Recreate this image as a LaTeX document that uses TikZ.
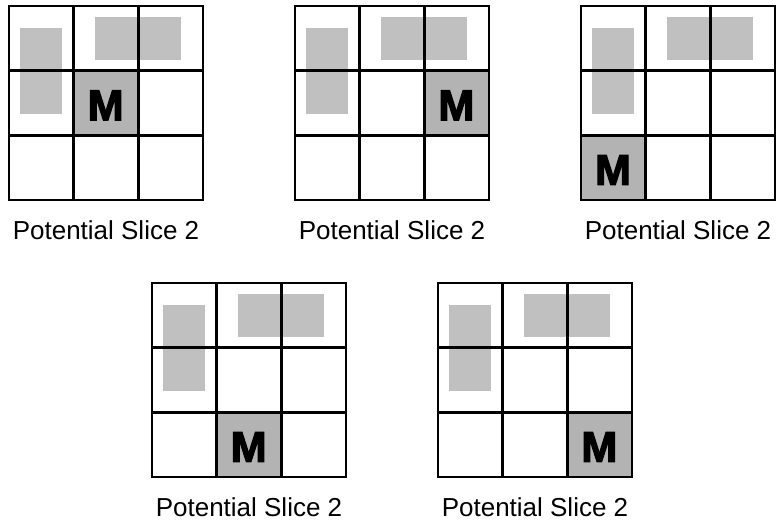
\documentclass[tikz,border=0pt]{standalone}
\usepackage{fontspec}
\setmainfont{Liberation Sans}
\newfontfamily\mfont{Liberation Sans Bold}[FakeBold=3]
\definecolor{lightblk}{HTML}{C0C0C0}
\definecolor{mshade}{HTML}{B3B3B3}
\tikzset{
  lightblock/.style={fill=lightblk},
  mcell/.style={fill=mshade},
  gridline/.style={draw=black,line width=2.4pt,line cap=rect},
  mlabel/.style={anchor=base,inner sep=0pt,font=\fontsize{43}{43}\mfont},
  caption/.style={anchor=base,inner sep=0pt,font=\fontsize{26}{26}\selectfont}
}
\newcommand{\slicegrid}[5]{%
  \begin{scope}[shift={(#1,#2)}]
    \fill[lightblock] (11,22) rectangle (53,108);
    \fill[lightblock] (86,11) rectangle (172,54);
    \fill[mcell] ({#3*64.667},{#4*64.667}) rectangle ++(64.667,64.667);
    \node[mlabel] (#5m) at ({#3*64.667+32},{#4*64.667+49.5}) {M};
    \foreach \i in {0,1,2,3} {
      \draw[gridline] ({\i*64.667},0) -- ({\i*64.667},194);
      \draw[gridline] (0,{\i*64.667}) -- (194,{\i*64.667});
    }
    \node[caption] (#5cap) at (97,233.5) {Potential Slice 2};
  \end{scope}}
\begin{document}
\begin{tikzpicture}[x=1pt,y=-1pt]
  \useasboundingbox (0,0) rectangle (777,523);
  \slicegrid{9}{6}{1}{1}{ga}
  \slicegrid{295}{6}{2}{1}{gb}
  \slicegrid{581}{6}{0}{2}{gc}
  \slicegrid{152}{283}{1}{2}{gd}
  \slicegrid{438}{283}{2}{2}{ge}
\end{tikzpicture}
\end{document}
